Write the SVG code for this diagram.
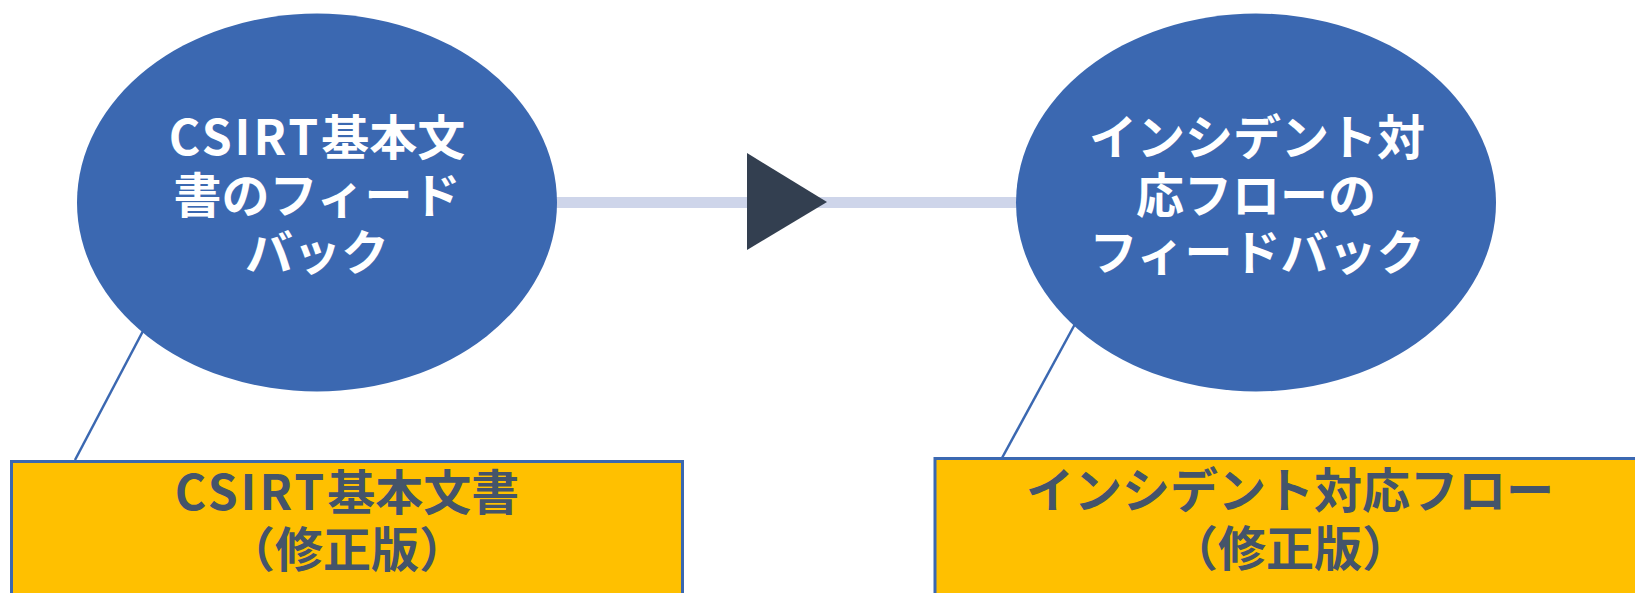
<svg xmlns="http://www.w3.org/2000/svg" width="1635" height="593" viewBox="0 0 1635 593">
  <style>
    .bubble { fill: #3B68B1; }
    .doc { fill: #FFC000; stroke: #3B68B1; stroke-width: 3; }
    .leader { stroke: #3B68B1; stroke-width: 2.5; fill: none; }
    .flow { stroke: #CED5EA; stroke-width: 11; fill: none; }
    .head { fill: #333F50; }
    .t { font-family: "Noto Sans CJK JP", "Noto Sans", sans-serif; font-weight: bold; font-size: 48px; text-anchor: middle; }
    .tw { fill: #FFFFFF; }
    .tg { fill: #44546A; }
    .wide { letter-spacing: 3px; }
  </style>

  <!-- flow between the two feedback bubbles -->
  <g id="connectors">
    <line class="flow" x1="555" y1="202.5" x2="1020" y2="202.5"/>
    <polygon class="head" points="747,153 827,202 747,250"/>
    <line class="leader" x1="143" y1="331" x2="75" y2="460"/>
    <line class="leader" x1="1075" y1="324" x2="1002" y2="458"/>
  </g>

  <g id="node-csirt-feedback">
    <ellipse class="bubble" cx="317" cy="202.5" rx="240" ry="189"/>
    <text class="t tw" x="317" y="155"><tspan class="wide">CSIRT</tspan>基本文</text>
    <text class="t tw" x="317" y="213">書のフィード</text>
    <text class="t tw" x="317" y="270">バック</text>
  </g>

  <g id="node-incident-feedback">
    <ellipse class="bubble" cx="1256" cy="202.5" rx="240" ry="189"/>
    <text class="t tw" x="1257" y="155">インシデント対</text>
    <text class="t tw" x="1256" y="213">応フローの</text>
    <text class="t tw" x="1257" y="270">フィードバック</text>
  </g>

  <g id="node-csirt-doc">
    <rect class="doc" x="11.5" y="461.5" width="671" height="150"/>
    <text class="t tg" x="347" y="510"><tspan class="wide">CSIRT</tspan>基本文書</text>
    <text class="t tg" x="347" y="567">（修正版）</text>
  </g>

  <g id="node-incident-flow">
    <rect class="doc" x="935" y="458.5" width="720" height="150"/>
    <text class="t tg" x="1290" y="508">インシデント対応フロー</text>
    <text class="t tg" x="1290" y="566">（修正版）</text>
  </g>
</svg>
